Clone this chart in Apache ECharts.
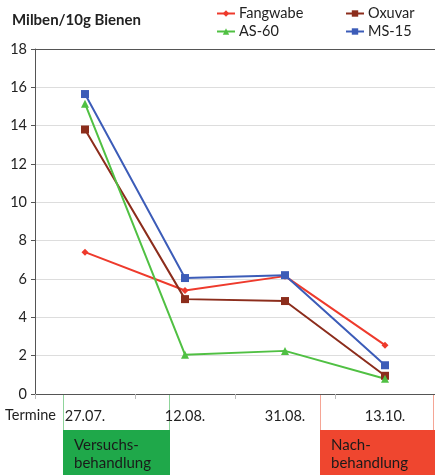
<!DOCTYPE html>
<html>
<head>
<meta charset="utf-8">
<script src="https://cdn.jsdelivr.net/npm/echarts@6/dist/echarts.min.js"></script>
<style>
  html, body { margin: 0; padding: 0; background: #fff; }
  #chart { width: 435px; height: 475px; }
</style>
</head>
<body>
<div id="chart"></div>
<script>
// Termine (x-Achse)
var termine = ['27.07.', '12.08.', '31.08.', '13.10.'];
var yTicks = [0, 2, 4, 6, 8, 10, 12, 14, 16, 18];

// Milben/10g Bienen je Variante
var fangwabe = [7.4, 5.4, 6.15, 2.55];
var oxuvar = [13.8, 4.95, 4.85, 0.95];
var as60 = [15.15, 2.05, 2.25, 0.8];
var ms15 = [15.65, 6.05, 6.2, 1.5];

var FONT = 'Lato';

var chart = echarts.init(document.getElementById('chart'));

function serie(name, data, color, symbol, size) {
  return {
    name: name,
    type: 'line',
    data: data,
    symbol: symbol,
    symbolSize: size,
    showSymbol: true,
    lineStyle: { color: color, width: 2 },
    itemStyle: { color: color },
    emphasis: { disabled: true },
    animation: false,
    z: 3
  };
}

// Gitterlinien: oberste Linie dunkler (Rahmen)
var gridColors = yTicks.map(function (v) { return v === 18 ? '#555' : '#dddddd'; });

var legendText = { fontFamily: FONT, fontSize: 14.5, color: '#222', padding: [0, 0, 0, -1] };

var option = {
  animation: false,
  textStyle: { fontFamily: FONT },
  grid: { left: 35, right: 0, top: 49, bottom: 81 },
  legend: [
    {
      data: ['Fangwabe', 'AS-60'],
      orient: 'vertical',
      left: 211, top: 1,
      itemWidth: 18, itemHeight: 8, itemGap: 3,
      textStyle: legendText
    },
    {
      data: ['Oxuvar', 'MS-15'],
      orient: 'vertical',
      left: 340, top: 1,
      itemWidth: 18, itemHeight: 8, itemGap: 3,
      textStyle: legendText
    }
  ],
  xAxis: {
    type: 'category',
    data: termine,
    boundaryGap: true,
    axisLine: { lineStyle: { color: '#555', width: 1 } },
    axisTick: { show: true, length: 5, lineStyle: { color: '#bbb' } },
    axisLabel: { color: '#222', fontSize: 14.5, margin: 15, fontFamily: FONT }
  },
  yAxis: {
    type: 'value',
    min: 0, max: 18, interval: 2,
    axisLine: { show: true, lineStyle: { color: '#555', width: 1 } },
    axisTick: { show: true, length: 4, lineStyle: { color: '#555' } },
    axisLabel: { color: '#222', fontSize: 14.5, margin: 8, fontFamily: FONT },
    splitLine: { show: true, lineStyle: { color: gridColors, width: 1 } }
  },
  series: [
    serie('Fangwabe', fangwabe, '#ee3a2c', 'diamond', 7),
    serie('Oxuvar', oxuvar, '#8c2d1c', 'rect', 8),
    serie('AS-60', as60, '#50c043', 'triangle', 8),
    serie('MS-15', ms15, '#3c5cb8', 'rect', 8)
  ],
  graphic: [
    { type: 'text', left: 12, top: 13,
      style: { text: 'Milben/10g Bienen', font: 'bold 15px "Lato"', fill: '#222' } },
    { type: 'text', left: 5, top: 408,
      style: { text: 'Termine', font: '14.5px "Lato"', fill: '#222' } },
    // Behandlungsmarkierungen
    { type: 'line', shape: { x1: 63.5, y1: 394, x2: 63.5, y2: 430 }, style: { stroke: '#8fd49b', lineWidth: 1 } },
    { type: 'line', shape: { x1: 169.5, y1: 394, x2: 169.5, y2: 430 }, style: { stroke: '#8fd49b', lineWidth: 1 } },
    { type: 'line', shape: { x1: 320.5, y1: 394, x2: 320.5, y2: 430 }, style: { stroke: '#f5a595', lineWidth: 1 } },
    { type: 'line', shape: { x1: 433.5, y1: 394, x2: 433.5, y2: 430 }, style: { stroke: '#f5a595', lineWidth: 1 } },
    { type: 'rect', shape: { x: 63, y: 430, width: 107, height: 45 }, style: { fill: '#1fa84a' } },
    { type: 'rect', shape: { x: 320, y: 430, width: 115, height: 45 }, style: { fill: '#ef462f' } },
    { type: 'text', left: 74, top: 436,
      style: { text: 'Versuchs-\nbehandlung', font: '15px "Lato"', fill: '#1a1a1a', lineHeight: 18 } },
    { type: 'text', left: 331, top: 436,
      style: { text: 'Nach-\nbehandlung', font: '15px "Lato"', fill: '#1a1a1a', lineHeight: 18 } }
  ]
};

chart.setOption(option);
</script>
</body>
</html>
